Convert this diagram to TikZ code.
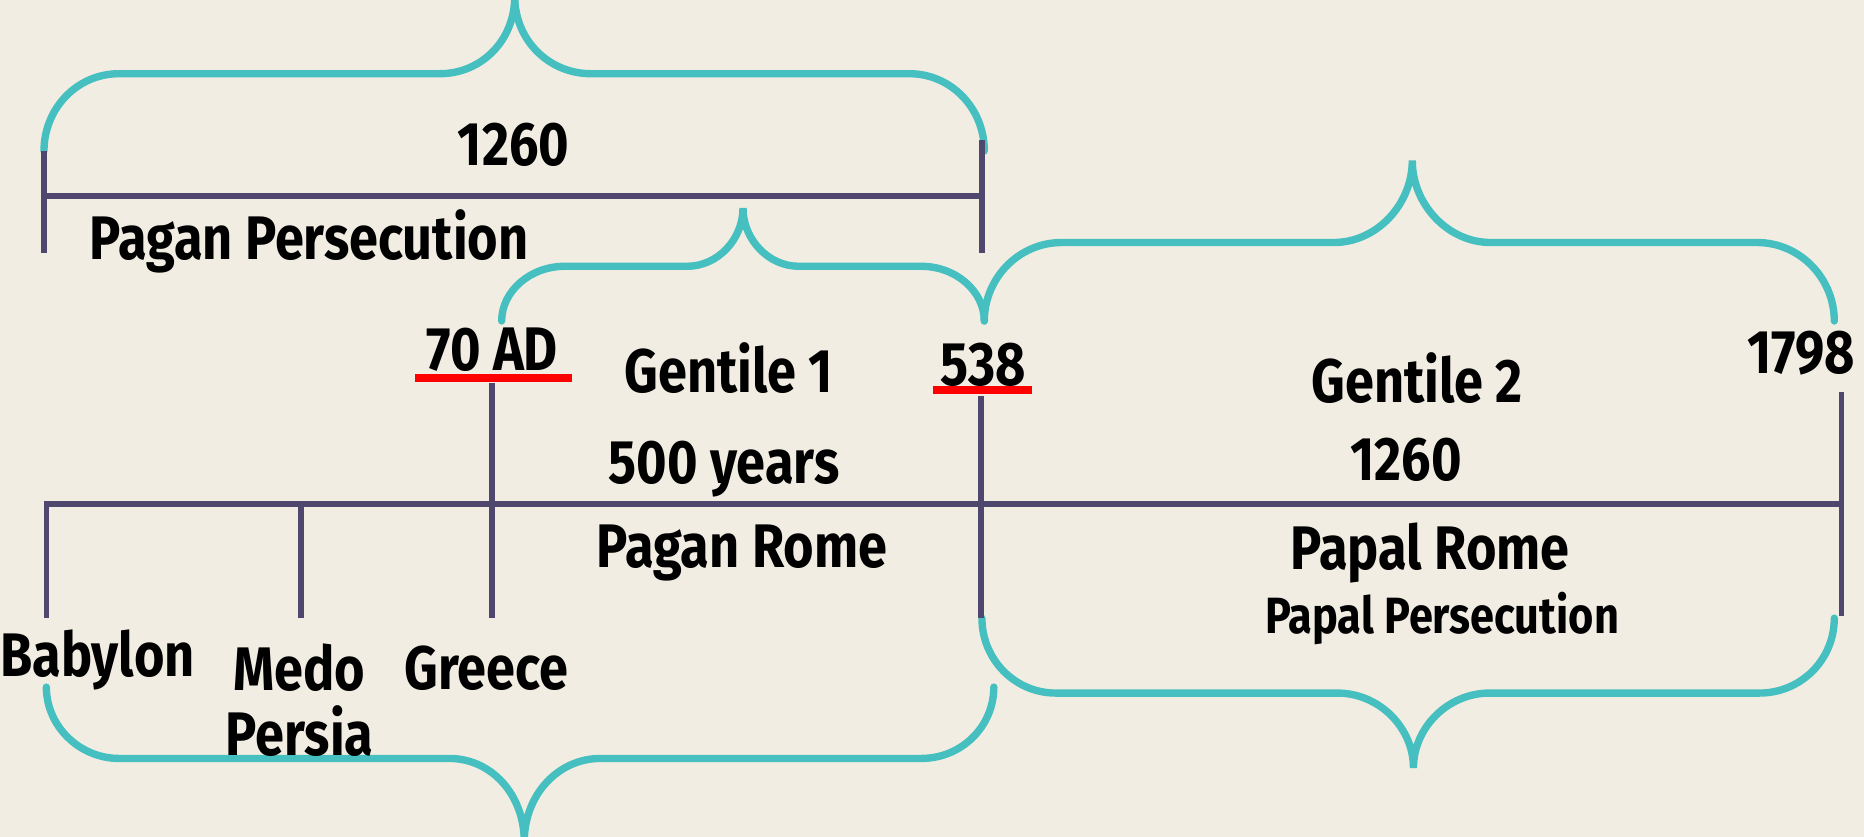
\documentclass[tikz,border=0pt]{standalone}
\usepackage{fontspec}
\setmainfont{Fira Sans}[FakeStretch=0.85]
\definecolor{bg}{HTML}{F2EDE3}
\definecolor{teal}{HTML}{45BFBF}
\definecolor{tline}{HTML}{4F476E}
\definecolor{redline}{HTML}{FF0000}
\begin{document}
\begin{tikzpicture}[x=0.0118878cm,y=-0.0118878cm,
  brace/.style={draw=teal,line width=2.1pt,line cap=round},
  bar/.style={draw=tline,line width=1.6pt},
  uline/.style={draw=redline,line width=2.3pt},
  lbl/.style={font=\fontsize{17.5}{20}\selectfont\bfseries,text=black,inner sep=0pt},
  slbl/.style={font=\fontsize{14.5}{16}\selectfont\bfseries,text=black,inner sep=0pt}]
\fill[bg] (0,0) rectangle (1568,704);
\useasboundingbox (0,0) rectangle (1568,704);
% braces
\draw[brace] (37,127) .. controls (37,91) and (65,62) .. (100,62) -- (370,62) .. controls (405,62) and (433,34) .. (433,-3) .. controls (433,34) and (462,62) .. (497,62) -- (765,62) .. controls (800,62) and (828,91) .. (828,127);
\draw[brace] (422,270) .. controls (422,245) and (446,224) .. (475,224) -- (578,224) .. controls (604,224) and (625,201) .. (625,175) .. controls (625,201) and (646,224) .. (672,224) -- (775,224) .. controls (804,224) and (828,245) .. (828,270);
\draw[brace] (828,270) .. controls (828,234) and (857,204) .. (893,204) -- (1122,204) .. controls (1158,204) and (1188,172) .. (1188,135) .. controls (1188,172) and (1218,204) .. (1254,204) -- (1478,204) .. controls (1514,204) and (1543,234) .. (1543,270);
\draw[brace] (39,578) .. controls (39,611) and (67,638) .. (100,638) -- (378,638) .. controls (413,638) and (441,668) .. (441,708) .. controls (441,668) and (470,638) .. (505,638) -- (775,638) .. controls (809,638) and (836,611) .. (836,578);
\draw[brace] (826,520) .. controls (826,555) and (854,583) .. (888,583) -- (1125,583) .. controls (1160,583) and (1189,612) .. (1189,646) .. controls (1189,612) and (1218,583) .. (1253,583) -- (1480,583) .. controls (1515,583) and (1543,555) .. (1543,520);
% top bar
\coordinate (tl1) at (37,127); \coordinate (tl2) at (37,213);
\coordinate (tr1) at (826,118); \coordinate (tr2) at (826,213);
\coordinate (th1) at (37,165); \coordinate (th2) at (826,165);
\draw[bar] (tl1) -- (tl2);
\draw[bar] (tr1) -- (tr2);
\draw[bar] (th1) -- (th2);
% main timeline
\coordinate (m1) at (37,424); \coordinate (m2) at (1549,424);
\draw[bar] (m1) -- (m2);
\coordinate (b1t) at (39,424); \coordinate (b1b) at (39,520);
\coordinate (b2t) at (253,424); \coordinate (b2b) at (253,520);
\coordinate (b3t) at (414,322); \coordinate (b3b) at (414,520);
\coordinate (b4t) at (825,333); \coordinate (b4b) at (825,520);
\coordinate (b5t) at (1549,330); \coordinate (b5b) at (1549,518);
\draw[bar] (b1t) -- (b1b);
\draw[bar] (b2t) -- (b2b);
\draw[bar] (b3t) -- (b3b);
\draw[bar] (b4t) -- (b4b);
\draw[bar] (b5t) -- (b5b);
% red underlines
\coordinate (u1a) at (349,318); \coordinate (u1b) at (481,318);
\coordinate (u2a) at (785,328); \coordinate (u2b) at (868,328);
\draw[uline] (u1a) -- (u1b);
\draw[uline] (u2a) -- (u2b);
% labels
\node[lbl] (n1260a) at (432,122) {1260};
\node[lbl] (pagpers) at (260,203) {Pagan Persecution};
\node[lbl] (ad70) at (414,294) {70 AD};
\node[lbl] (gent1) at (613,310) {Gentile 1};
\node[lbl] (y538) at (827,307) {538};
\node[lbl] (gent2) at (1192,318) {Gentile 2};
\node[lbl] (y1798) at (1515,297) {1798};
\node[lbl] (n1260b) at (1183,387) {1260};
\node[lbl] (y500) at (609,395) {500 years};
\node[lbl] (pagrome) at (624,465) {Pagan Rome};
\node[lbl] (paprome) at (1203,465) {Papal Rome};
\node[slbl] (pappers) at (1213,520) {Papal Persecution};
\node[lbl] (babylon) at (82,555) {Babylon};
\node[lbl] (medo) at (252,562) {Medo};
\node[lbl] (persia) at (252,615) {Persia};
\node[lbl] (greece) at (409,562) {Greece};
\end{tikzpicture}
\end{document}
